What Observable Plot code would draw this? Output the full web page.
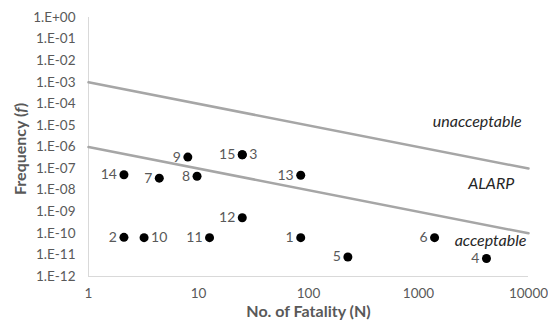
<!DOCTYPE html>
<html>
<head>
<meta charset="utf-8">
<script src="https://cdn.jsdelivr.net/npm/d3@7"></script>
<script src="https://cdn.jsdelivr.net/npm/@observablehq/plot@0.6"></script>
<style>
  html, body { margin: 0; padding: 0; background: #fff; }
  #chart svg { display: block; }
</style>
</head>
<body>
<div id="chart"></div>
<script>
// Scenario ids, number of fatalities (N) and frequency (f)
const ids = ["1","2","3","4","5","6","7","8","9","10","11","12","13","14","15"];
const fatalities = [85, 2.1, 25, 4150, 228, 1400, 4.4, 9.7, 8, 3.2, 12.6, 25, 85, 2.1, 25];
const frequencies = [6.3e-11, 6.5e-11, 4.4e-7, 6.8e-12, 8e-12, 6.3e-11, 3.6e-8, 4.4e-8, 3.4e-7, 6.3e-11, 6.3e-11, 5.3e-10, 4.9e-8, 5.2e-8, 4.4e-7];
// ids whose label sits to the right of the dot
const rightLabelled = ["3", "10"];

// F-N criterion lines
const boundN = [1, 10000];
const upperF = [1e-3, 1e-7];
const lowerF = [1e-6, 1e-10];

// Region labels
const regionNames = ["unacceptable", "ALARP", "acceptable"];
const regionN = [3420, 4580, 4520];
const regionF = [1.4e-5, 1.86e-8, 4.4e-11];

// Axis ticks
const xTicks = [1, 10, 100, 1000, 10000];
const yExp = [0, -1, -2, -3, -4, -5, -6, -7, -8, -9, -10, -11, -12];
const yTicks = yExp.map(e => Math.pow(10, e));

const points = ids.map((id, i) => ({id, N: fatalities[i], f: frequencies[i]}));
const upper = boundN.map((n, i) => ({N: n, f: upperF[i]}));
const lower = boundN.map((n, i) => ({N: n, f: lowerF[i]}));
const regions = regionNames.map((t, i) => ({t, N: regionN[i], f: regionF[i]}));

const fmtY = v => {
  const e = Math.round(Math.log10(v));
  return "1.E" + (e >= 0 ? "+" : "-") + String(Math.abs(e)).padStart(2, "0");
};

const grey = "#595959";
const font = "Lato, 'Open Sans', sans-serif";

const chart = Plot.plot({
  width: 548,
  height: 324,
  marginLeft: 88,
  marginRight: 20,
  marginTop: 17,
  marginBottom: 48,
  style: {fontFamily: font, fontSize: "13.5px", color: grey, background: "#fff"},
  x: {type: "log", domain: [1, 10000], ticks: xTicks, tickFormat: d => String(d), tickSize: 0, tickPadding: 12,
      label: "No. of Fatality (N)", labelAnchor: "center", labelArrow: "none", labelOffset: 40},
  y: {type: "log", domain: [1e-12, 1], ticks: yTicks, tickFormat: fmtY, tickSize: 0, tickPadding: 13,
      label: null},
  marks: [
    Plot.ruleX([1], {stroke: "#d9d9d9", strokeWidth: 1}),
    Plot.ruleY([1e-12], {stroke: "#d9d9d9", strokeWidth: 1}),
    Plot.line(upper, {x: "N", y: "f", stroke: "#a6a6a6", strokeWidth: 2.5}),
    Plot.line(lower, {x: "N", y: "f", stroke: "#a6a6a6", strokeWidth: 2.5}),
    Plot.dot(points, {x: "N", y: "f", r: 4.5, fill: "#000", stroke: "none"}),
    Plot.text(points.filter(d => !rightLabelled.includes(d.id)), {x: "N", y: "f", text: "id", textAnchor: "end", dx: -7, fill: grey, fontSize: 14}),
    Plot.text(points.filter(d => rightLabelled.includes(d.id)), {x: "N", y: "f", text: "id", textAnchor: "start", dx: 7, fill: grey, fontSize: 14}),
    Plot.text(regions, {x: "N", y: "f", text: "t", fill: "#262626", fontStyle: "italic", fontSize: 16}),
    Plot.text(["Frequency (f)"], {frameAnchor: "left", textAnchor: "middle", dx: -68, dy: 2, rotate: -90, text: d => d, fill: grey, fontWeight: "bold", fontSize: 16, className: "ytitle"})
  ]
});
// bold x-axis title
chart.querySelectorAll("g[aria-label='x-axis label'] text").forEach(t => {
  t.setAttribute("font-weight", "bold"); t.setAttribute("fill", grey); t.setAttribute("font-size", "16");
});
// italic f in the y-axis title
chart.querySelectorAll(".ytitle text").forEach(t => {
  t.textContent = "";
  const parts = [["Frequency (", false], ["f", true], [")", false]];
  for (const [s, it] of parts) {
    const ts = document.createElementNS("http://www.w3.org/2000/svg", "tspan");
    ts.textContent = s;
    if (it) ts.setAttribute("font-style", "italic");
    t.appendChild(ts);
  }
});
document.getElementById("chart").appendChild(chart);
</script>
</body>
</html>
